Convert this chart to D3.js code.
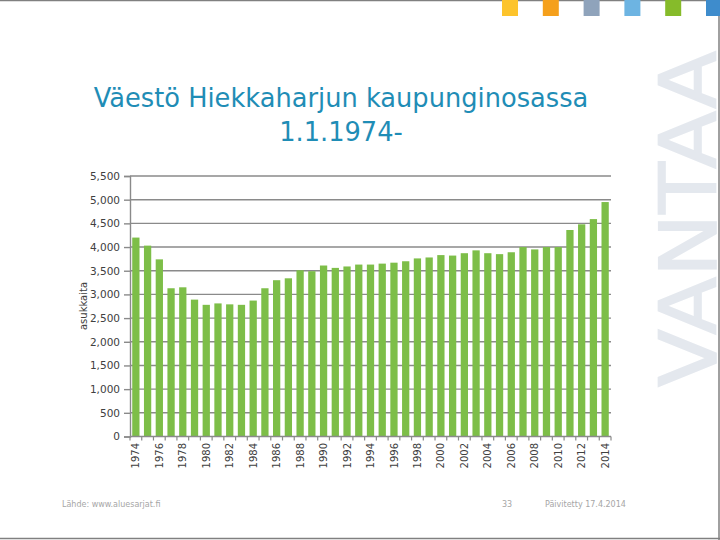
<!DOCTYPE html>
<html>
<head>
<meta charset="utf-8">
<script src="https://cdn.jsdelivr.net/npm/d3@7"></script>
<style>
  body { margin: 0; background: #fff; }
  svg { display: block; font-family: 'DejaVu Sans', Verdana, sans-serif; }
</style>
</head>
<body>
<div id="chart"></div>
<script>
const years = d3.range(1974, 2015)
const population = [
  4200, 4030, 3740, 3130, 3150, 2890, 2780, 2810, 2790, 2780,
  2870, 3130, 3300, 3340, 3510, 3490, 3610, 3560, 3590, 3630,
  3630, 3650, 3670, 3700, 3760, 3780, 3830, 3820, 3870, 3930,
  3870, 3850, 3890, 4000, 3950, 4000, 4000, 4360, 4480, 4590,
  4950,
]
const yTicks = [0, 500, 1000, 1500, 2000, 2500, 3000, 3500, 4000, 4500, 5000, 5500]
const yearLabels = years.filter(y => (y - 1974) % 2 === 0)
const titleLines = ['Väestö Hiekkaharjun kaupunginosassa', '1.1.1974-']
const brandColors = ['#fdc42c', '#f5a01c', '#8fa3bb', '#6db4e2', '#86bb2a', '#3e8ccc']

const data = years.map((y, i) => ({ year: y, value: population[i] }))

const W = 720
const H = 540

const svg = d3.select('#chart').append('svg')
  .attr('width', W)
  .attr('height', H)

// watermark
svg.append('text')
  .attr('transform', 'translate(716, 387) rotate(-90)')
  .attr('font-size', '78px')
  .attr('fill', '#e4e8ee')
  .attr('stroke', '#e4e8ee')
  .attr('stroke-width', 1.6)
  .attr('textLength', 336)
  .attr('lengthAdjust', 'spacingAndGlyphs')
  .text('VANTAA')

// slide frame
svg.append('line').attr('x1', 0).attr('x2', W).attr('y1', 0.5).attr('y2', 0.5)
  .attr('stroke', '#808080').attr('stroke-width', 1.5)
svg.append('line').attr('x1', W - 1).attr('x2', W - 1).attr('y1', 0).attr('y2', H)
  .attr('stroke', '#808080').attr('stroke-width', 1.5)
svg.append('line').attr('x1', 0).attr('x2', W).attr('y1', H - 1.5).attr('y2', H - 1.5)
  .attr('stroke', '#808080').attr('stroke-width', 1.5)

// colour squares at the top
brandColors.forEach((c, i) => {
  svg.append('rect')
    .attr('x', 502 + i * 40.8)
    .attr('y', 0)
    .attr('width', 16)
    .attr('height', 16)
    .attr('fill', c)
})

// title
svg.selectAll('.title')
  .data(titleLines)
  .enter().append('text')
  .attr('class', 'title')
  .attr('x', 341)
  .attr('y', (d, i) => 107 + i * 34)
  .attr('text-anchor', 'middle')
  .attr('font-size', '25.7px')
  .attr('fill', '#1f8db6')
  .text(d => d)

const plotLeft = 130
const plotRight = 611
const plotTop = 176
const plotBottom = 436.5

const x = d3.scaleBand()
  .domain(years)
  .range([plotLeft, plotRight])
  .paddingInner(0.38)
  .paddingOuter(0.19)

const y = d3.scaleLinear()
  .domain([0, 5500])
  .range([plotBottom, plotTop])

const g = svg.append('g')

// gridlines
g.selectAll('.grid')
  .data(yTicks.filter(t => t > 0))
  .enter().append('line')
  .attr('x1', plotLeft)
  .attr('x2', plotRight)
  .attr('y1', d => y(d))
  .attr('y2', d => y(d))
  .attr('stroke', '#8a8a8a')
  .attr('stroke-width', 1.4)

// bars
g.selectAll('.bar')
  .data(data)
  .enter().append('rect')
  .attr('x', d => x(d.year))
  .attr('y', d => y(d.value))
  .attr('width', x.bandwidth())
  .attr('height', d => plotBottom - y(d.value))
  .attr('fill', '#7dbe48')

// y axis
const yAxis = d3.axisLeft(y)
  .tickValues(yTicks)
  .tickFormat(d3.format(','))
  .tickSize(6)
  .tickPadding(4)

const yAxisG = g.append('g')
  .attr('transform', `translate(${plotLeft}, 0)`)
  .call(yAxis)
yAxisG.select('.domain').attr('stroke', '#8a8a8a').attr('stroke-width', 1.4)
yAxisG.selectAll('.tick line').attr('stroke', '#8a8a8a').attr('stroke-width', 1.4)
yAxisG.selectAll('.tick text')
  .attr('font-family', "'DejaVu Sans', sans-serif")
  .attr('font-size', '10.5px')
  .attr('fill', '#404040')

// x axis line and ticks between categories
g.append('line')
  .attr('x1', plotLeft)
  .attr('x2', plotRight)
  .attr('y1', plotBottom)
  .attr('y2', plotBottom)
  .attr('stroke', '#8a8a8a')
  .attr('stroke-width', 1.4)

const half = x.step() * x.paddingInner() / 2
const boundaries = years.map(yr => x(yr) - half).concat([plotRight])
g.selectAll('.xtick')
  .data(boundaries)
  .enter().append('line')
  .attr('x1', d => d)
  .attr('x2', d => d)
  .attr('y1', plotBottom)
  .attr('y2', plotBottom + 4)
  .attr('stroke', '#8a8a8a')
  .attr('stroke-width', 1.2)

g.selectAll('.xlabel')
  .data(yearLabels)
  .enter().append('text')
  .attr('transform', d => `translate(${x(d) + x.bandwidth() / 2}, 443) rotate(-90)`)
  .attr('text-anchor', 'end')
  .attr('dy', '0.36em')
  .attr('font-size', '10px')
  .attr('fill', '#404040')
  .text(d => d)

// y axis label
svg.append('text')
  .attr('transform', 'translate(87, 306) rotate(-90)')
  .attr('text-anchor', 'middle')
  .attr('font-size', '10px')
  .attr('fill', '#404040')
  .text('asukkaita')

// footer
const footer = [
  { x: 62, text: 'Lähde: www.aluesarjat.fi' },
  { x: 502, text: '33' },
  { x: 545, text: 'Päivitetty 17.4.2014' },
]
svg.selectAll('.footer')
  .data(footer)
  .enter().append('text')
  .attr('x', d => d.x)
  .attr('y', 507)
  .attr('font-size', '8px')
  .attr('fill', '#a6a6a6')
  .text(d => d.text)
</script>
</body>
</html>
